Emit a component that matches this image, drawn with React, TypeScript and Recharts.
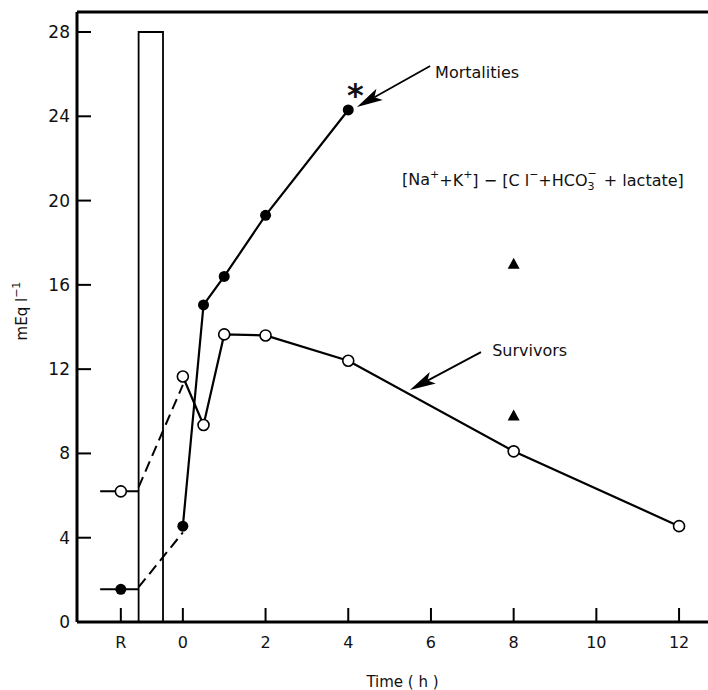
import React from "react";
import {
  ComposedChart, Line, Scatter, XAxis, YAxis,
  ReferenceArea, ReferenceLine, ReferenceDot,
} from "recharts";

// axis setup
const xTicks = [-1.5, 0, 2, 4, 6, 8, 10, 12];
const yTicks = [0, 4, 8, 12, 16, 20, 24, 28];
const xDomain = [-2.56, 12.7];
const yDomain = [0, 28.95];

// rest value (R), then the infusion box
const restTime = -1.5;
const restLineStart = -2.0;
const infusionStart = -1.07;
const infusionEnd = -0.48;
const infusionTop = 28;

const survivorsTime = [0, 0.5, 1, 2, 4, 8, 12];
const survivorsValue = [11.65, 9.35, 13.65, 13.6, 12.4, 8.1, 4.55];
const survivorsRest = 6.2;

const mortalitiesTime = [0, 0.5, 1, 2, 4];
const mortalitiesValue = [4.55, 15.05, 16.4, 19.3, 24.3];
const mortalitiesRest = 1.55;

const triangleTime = [8, 8];
const triangleValue = [17.0, 9.8];

const FONT = '"DejaVu Sans", sans-serif';
const INK = "#111";

const pts = (xs: number[], ys: number[]) => xs.map((x, i) => ({ x, y: ys[i] }));

const survivors = pts(survivorsTime, survivorsValue);
const mortalities = pts(mortalitiesTime, mortalitiesValue);
const survivorsRestLine = pts([restLineStart, infusionStart], [survivorsRest, survivorsRest]);
const mortalitiesRestLine = pts([restLineStart, infusionStart], [mortalitiesRest, mortalitiesRest]);
const survivorsDash = pts([infusionStart, 0], [survivorsRest + 0.2, survivorsValue[0] - 0.4]);
const mortalitiesDash = pts([infusionStart, 0], [mortalitiesRest + 0.1, mortalitiesValue[0] - 0.3]);
const survivorsDots = [{ x: restTime, y: survivorsRest }, ...survivors];
const mortalitiesDots = [{ x: restTime, y: mortalitiesRest }, ...mortalities];
const triangles = pts(triangleTime, triangleValue);

const OpenDot = (p: any) => (
  <circle cx={p.cx} cy={p.cy} r={5.5} fill="#fff" stroke="#000" strokeWidth={1.6} />
);
const FilledDot = (p: any) => <circle cx={p.cx} cy={p.cy} r={5.5} fill="#000" />;
const Triangle = (p: any) => (
  <polygon
    points={`${p.cx},${p.cy - 6} ${p.cx - 6},${p.cy + 5} ${p.cx + 6},${p.cy + 5}`}
    fill="#000"
  />
);

// ticks point inward, labels stay outside
const YTick = (p: any) => (
  <g>
    <line x1={p.x + 7} y1={p.y} x2={p.x + 21} y2={p.y} stroke="#000" strokeWidth={2} />
    <text x={p.x} y={p.y} textAnchor="end" dominantBaseline="central"
      fontFamily={FONT} fontSize={17} fill={INK}>
      {p.payload.value}
    </text>
  </g>
);
const XTick = (p: any) => (
  <g>
    <line x1={p.x} y1={p.y - 13} x2={p.x} y2={p.y - 27} stroke="#000" strokeWidth={2} />
    <text x={p.x} y={p.y + 7} textAnchor="middle" dominantBaseline="central"
      fontFamily={FONT} fontSize={16} fill={INK}>
      {p.payload.value === restTime ? "R" : p.payload.value}
    </text>
  </g>
);

const ArrowShape = (props: any) => {
  const { x1, y1, x2, y2 } = props;
  const a = Math.atan2(y2 - y1, x2 - x1);
  const len = 26;
  const half = 6.5;
  const bx = x2 - len * Math.cos(a);
  const by = y2 - len * Math.sin(a);
  const nx = -Math.sin(a) * half;
  const ny = Math.cos(a) * half;
  const mx = x2 - (len - 6) * Math.cos(a);
  const my = y2 - (len - 6) * Math.sin(a);
  return (
    <g>
      <line x1={x1} y1={y1} x2={mx} y2={my} stroke="#000" strokeWidth={1.8} />
      <polygon
        points={`${x2},${y2} ${bx + nx},${by + ny} ${mx},${my} ${bx - nx},${by - ny}`}
        fill="#000"
      />
    </g>
  );
};

const textAt = (content: string, size: number, weight = 400) => (p: any) => (
  <text x={p.cx} y={p.cy} fontFamily={FONT} fontSize={size} fontWeight={weight}
    dominantBaseline="central" fill={INK}>
    {content}
  </text>
);

const Formula = (p: any) => (
  <text x={p.cx} y={p.cy} fontFamily={FONT} fontSize={16} dominantBaseline="central" fill={INK}>
    [Na<tspan dy={-6} fontSize={11}>+</tspan>
    <tspan dy={6}>+K</tspan>
    <tspan dy={-6} fontSize={11}>+</tspan>
    <tspan dy={6}>]  −  [C l</tspan>
    <tspan dy={-6} fontSize={11}>−</tspan>
    <tspan dy={6}>+HCO</tspan>
    <tspan dy={6} fontSize={11}>3</tspan>
    <tspan dx={-7} dy={-13} fontSize={11}>−</tspan>
    <tspan dx={2} dy={7}> + lactate]</tspan>
  </text>
);

export default function App() {
  return (
    <div style={{ position: "absolute", left: 0, top: 0, width: 708, height: 690, background: "#fff" }}>
      <ComposedChart width={708} height={690} margin={{ top: 12, right: 0, bottom: 0, left: 0 }}>
        <XAxis
          type="number"
          dataKey="x"
          domain={xDomain}
          ticks={xTicks}
          allowDataOverflow
          height={68}
          tickSize={0}
          tickMargin={13}
          tickLine={false}
          tick={XTick}
          axisLine={{ stroke: "#000", strokeWidth: 3 }}
          label={{
            content: (p: any) => (
              <text x={p.viewBox.x + p.viewBox.width / 2 + 10} y={682} textAnchor="middle"
                dominantBaseline="central" fontFamily={FONT} fontSize={15} fill={INK}>
                Time ( h )
              </text>
            ),
          }}
        />
        <YAxis
          type="number"
          dataKey="y"
          domain={yDomain}
          ticks={yTicks}
          allowDataOverflow
          width={77}
          tickSize={0}
          tickMargin={7}
          tickLine={false}
          tick={YTick}
          axisLine={{ stroke: "#000", strokeWidth: 3 }}
          label={{
            content: (p: any) => {
              const cx = 22;
              const cy = p.viewBox.y + p.viewBox.height / 2 - 6;
              return (
                <text x={cx} y={cy} transform={`rotate(-90, ${cx}, ${cy})`} textAnchor="middle"
                  dominantBaseline="central" fontFamily={FONT} fontSize={15} fill={INK}
                  style={{ fill: INK }}>
                  mEq l<tspan dy={-6} fontSize={11}>−1</tspan>
                </text>
              );
            },
          }}
        />
        <ReferenceLine y={yDomain[1]} stroke="#000" strokeWidth={3} />
        <ReferenceArea x1={infusionStart} x2={infusionEnd} y1={0} y2={infusionTop}
          fill="none" stroke="#000" strokeWidth={1.8} fillOpacity={0} />

        <Line data={survivorsRestLine} dataKey="y" stroke="#000" strokeWidth={2} dot={false} isAnimationActive={false} />
        <Line data={mortalitiesRestLine} dataKey="y" stroke="#000" strokeWidth={2} dot={false} isAnimationActive={false} />
        <Line data={survivorsDash} dataKey="y" stroke="#000" strokeWidth={2} strokeDasharray="11 6" dot={false} isAnimationActive={false} />
        <Line data={mortalitiesDash} dataKey="y" stroke="#000" strokeWidth={2} strokeDasharray="11 6" dot={false} isAnimationActive={false} />
        <Line data={survivors} dataKey="y" stroke="#000" strokeWidth={2.2} dot={false} isAnimationActive={false} />
        <Line data={mortalities} dataKey="y" stroke="#000" strokeWidth={2.2} dot={false} isAnimationActive={false} />

        <Scatter data={survivorsDots} dataKey="y" shape={OpenDot} isAnimationActive={false} />
        <Scatter data={mortalitiesDots} dataKey="y" shape={FilledDot} isAnimationActive={false} />
        <Scatter data={triangles} dataKey="y" shape={Triangle} isAnimationActive={false} />

        <ReferenceLine segment={[{ x: 5.98, y: 26.39 }, { x: 4.21, y: 24.44 }]} shape={ArrowShape} />
        <ReferenceLine segment={[{ x: 7.21, y: 12.81 }, { x: 5.49, y: 11.01 }]} shape={ArrowShape} />

        <ReferenceDot x={6.1} y={26.1} r={0} shape={textAt("Mortalities", 16)} />
        <ReferenceDot x={3.97} y={25.0} r={0} shape={textAt("*", 32, 700)} />
        <ReferenceDot x={7.48} y={12.9} r={0} shape={textAt("Survivors", 16)} />
        <ReferenceDot x={5.3} y={20.98} r={0} shape={Formula} />
      </ComposedChart>
    </div>
  );
}
